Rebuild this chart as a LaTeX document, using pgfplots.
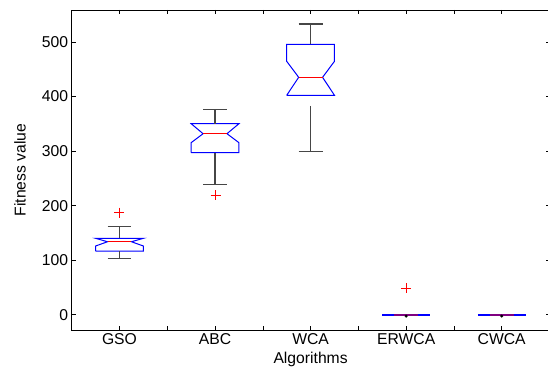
\documentclass[border=0pt]{standalone}
\usepackage{fontspec}
\setmainfont{Liberation Sans}
\usepackage{pgfplots}
\pgfplotsset{compat=1.18}
\definecolor{boxblue}{RGB}{0,0,255}
\definecolor{medred}{RGB}{255,0,0}
\definecolor{whisk}{RGB}{70,70,70}
\definecolor{purp}{RGB}{128,0,128}
\pgfplotsset{
  bx/.style={boxblue, line width=1pt},
  wk/.style={whisk, line width=1.1pt},
  md/.style={medred, line width=0.9pt},
}
\begin{document}
\begin{tikzpicture}
\begin{axis}[
  scale only axis, width=477.8pt, height=320pt,
  xmin=0.5, xmax=5.5, ymin=-28, ymax=558.7,
  xtick={1,2,3,4,5}, xticklabels={GSO,ABC,WCA,ERWCA,CWCA},
  minor xtick={1.5,2.5,3.5,4.5},
  ytick={0,100,200,300,400,500},
  tick align=inside, major tick length=4pt, minor tick length=4pt,
  tick style={black, line width=0.6pt},
  axis line style={line width=0.8pt},
  /pgf/number format/assume math mode=true,
  ticklabel style={font=\fontsize{15.7}{18}\selectfont},
  label style={font=\fontsize{15.7}{18}\selectfont},
  xlabel={Algorithms}, ylabel={Fitness value},
  xlabel style={at={(axis description cs:0.5,-0.106)}, anchor=base},
  ylabel style={at={(axis description cs:-0.108,0.5)}, anchor=center},
]
% GSO
\addplot[bx] coordinates {(0.75,116.8)(0.75,126)(0.875,133.8)(0.75,140.1)(1.25,140.1)(1.125,133.8)(1.25,126)(1.25,116.8)(0.75,116.8)};
\addplot[wk] coordinates {(1,140.1)(1,161.4)};
\addplot[wk] coordinates {(0.875,161.4)(1.125,161.4)};
\addplot[wk] coordinates {(1,116.8)(1,102.7)};
\addplot[wk] coordinates {(0.875,102.7)(1.125,102.7)};
\addplot[md] coordinates {(0.875,133.8)(1.125,133.8)};
% ABC
\addplot[bx] coordinates {(1.75,297)(1.75,315.4)(1.875,331.9)(1.75,350.2)(2.25,350.2)(2.125,331.9)(2.25,315.4)(2.25,297)(1.75,297)};
\addplot[wk] coordinates {(2,350.2)(2,376.6)};
\addplot[wk] coordinates {(1.875,376.6)(2.125,376.6)};
\addplot[wk] coordinates {(2,297)(2,238.4)};
\addplot[wk] coordinates {(1.875,238.4)(2.125,238.4)};
\addplot[md] coordinates {(1.875,331.9)(2.125,331.9)};
% WCA
\addplot[bx] coordinates {(2.75,402.3)(2.875,435.3)(2.75,464.6)(2.75,495.8)(3.25,495.8)(3.25,464.6)(3.125,435.3)(3.25,402.3)(2.75,402.3)};
\addplot[wk] coordinates {(3,495.8)(3,533)};
\addplot[wk] coordinates {(2.875,533)(3.125,533)};
\addplot[wk] coordinates {(3,382.7)(3,299.6)};
\addplot[wk] coordinates {(2.875,299.6)(3.125,299.6)};
\addplot[md] coordinates {(2.875,435.3)(3.125,435.3)};
% ERWCA
\addplot[boxblue, line width=2pt] coordinates {(3.75,0)(4.25,0)};
\addplot[purp, line width=2pt] coordinates {(3.875,0)(4.125,0)};
\addplot[black, only marks, mark=*, mark size=1.3pt] coordinates {(4,-2.5)};
% CWCA
\addplot[boxblue, line width=2pt] coordinates {(4.75,0)(5.25,0)};
\addplot[purp, line width=2pt] coordinates {(4.875,0)(5.125,0)};
\addplot[black, only marks, mark=*, mark size=1.3pt] coordinates {(5,-2.5)};
% outliers
\addplot[red, only marks, mark=+, mark size=5pt, line width=1pt, mark options={red}] coordinates {(1,187)(2.005,218.9)(4,48.4)};
\end{axis}
\pgfresetboundingbox
\useasboundingbox (-71.7pt,-44pt) rectangle (476.3pt,330pt);
\end{tikzpicture}
\end{document}
